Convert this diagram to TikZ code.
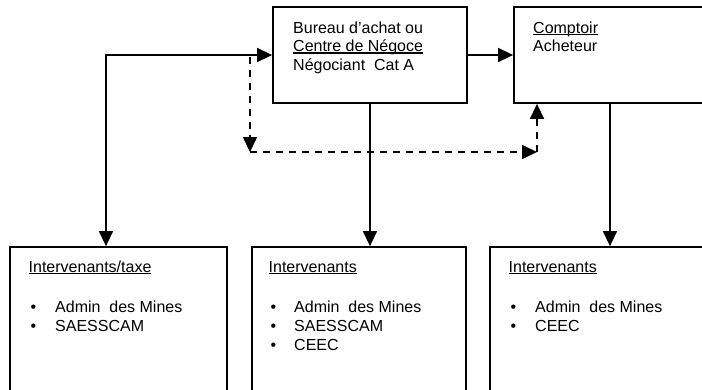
\documentclass[tikz,border=0pt]{standalone}
\usepackage{fontspec}
\setmainfont{Liberation Sans}
\usetikzlibrary{arrows.meta}
\newcommand\myul[1]{\setbox0\hbox{#1}\rlap{\rule[-2pt]{\wd0}{1.1pt}}\box0}
\begin{document}
\begin{tikzpicture}[x=1pt,y=-1pt,
  box/.style={draw,line width=1.8pt,rectangle,inner sep=0pt},
  txt/.style={anchor=base west,inner sep=0pt,font=\fontsize{16}{18.5}\selectfont},
  conn/.style={line width=1.6pt,-{Triangle[length=15pt,width=14pt]}},
  dconn/.style={line width=1.6pt,dash pattern=on 7.3pt off 5.7pt,-{Triangle[length=15pt,width=14pt]}},
  both/.style={line width=1.6pt,{Triangle[length=15pt,width=14pt]}-{Triangle[length=15pt,width=14pt]}}]
\useasboundingbox (0,0) rectangle (702,389);
\clip (0,0) rectangle (702,389);
% top boxes
\node[box,minimum width=194pt,minimum height=96pt] (bureau) at (370,55) {};
\node[box,minimum width=226pt,minimum height=96pt] (comptoir) at (627,55) {};
% bottom boxes
\node[box,minimum width=217pt,minimum height=173pt] (inter1) at (118.5,333.5) {};
\node[box,minimum width=214pt,minimum height=173pt] (inter2) at (359,333.5) {};
\node[box,minimum width=250pt,minimum height=173pt] (inter3) at (615,333.5) {};
% texts top
\node[txt] (b1) at (293,33) {Bureau d’achat ou};
\node[txt] (b2) at (293,51.5) {\myul{Centre de Négoce}};
\node[txt] (b3) at (293,70) {Négociant~~Cat A};
\node[txt] (c1) at (533,33) {\myul{Comptoir}};
\node[txt] (c2) at (533,51.5) {Acheteur};
% texts bottom 1
\node[txt] (i1t) at (28.5,272) {\myul{Intervenants/taxe}};
\node[txt] (i1a) at (30.5,312) {•};
\node[txt] (i1b) at (30.5,331) {•};
\node[txt] (i1c) at (55,312) {Admin~~des Mines};
\node[txt] (i1d) at (55,331) {SAESSCAM};
% bottom 2
\node[txt] (i2t) at (268.5,272) {\myul{Intervenants}};
\node[txt] (i2a) at (270.5,312) {•};
\node[txt] (i2b) at (270.5,331) {•};
\node[txt] (i2c) at (270.5,350) {•};
\node[txt] (i2d) at (294,312) {Admin~~des Mines};
\node[txt] (i2e) at (294,331) {SAESSCAM};
\node[txt] (i2f) at (294,350) {CEEC};
% bottom 3
\node[txt] (i3t) at (508.5,272) {\myul{Intervenants}};
\node[txt] (i3a) at (510.5,312) {•};
\node[txt] (i3b) at (510.5,331) {•};
\node[txt] (i3d) at (535,312) {Admin~~des Mines};
\node[txt] (i3e) at (535,331) {CEEC};
% connectors
\coordinate (lc) at (106,55);
\coordinate (c3) at (610,103);
\draw[conn] (bureau.east) -- (comptoir.west);
\draw[both] (lc |- inter1.north) -- (lc) -- (bureau.west);
\draw[conn] (bureau.south) -- (bureau.south |- inter2.north);
\draw[conn] (c3) -- (c3 |- inter3.north);
\coordinate (d0) at (250,57);
\coordinate (d1) at (250,152);
\coordinate (d2) at (537,152);
\draw[dconn] (d0) -- (d1);
\draw[dconn] (d1) -- (d2);
\draw[dconn] (d2) -- (d2 |- comptoir.south);
\end{tikzpicture}
\end{document}
